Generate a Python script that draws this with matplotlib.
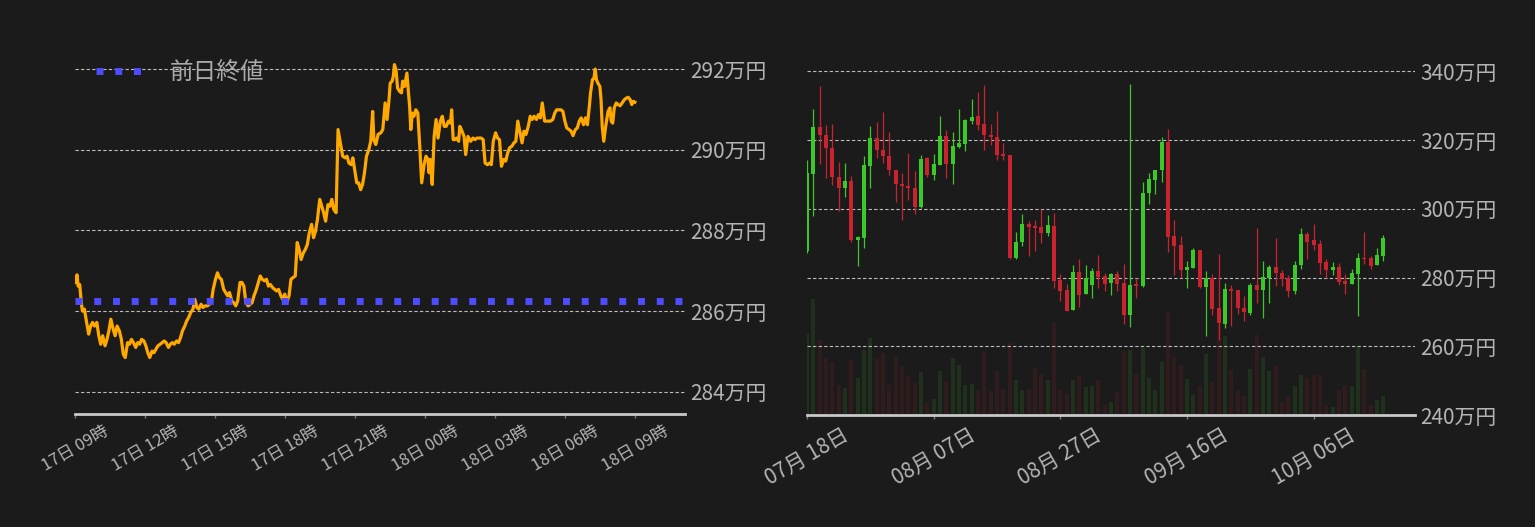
import numpy as np
import pandas as pd
import matplotlib
matplotlib.use('Agg')
import matplotlib.pyplot as plt
import matplotlib.dates as mdates
from matplotlib.ticker import FuncFormatter

plt.rcParams['font.family'] = ['Noto Sans CJK JP', 'DejaVu Sans']

BG = '#1b1b1b'
TXT = '#b4b4b4'
ORANGE = '#ffa800'
BLUE = '#4d4dff'
UP = '#3cc828'
DOWN = '#c8232f'

# ---- intraday (minutes from 17日 09:00, price in 万円) ----
minutes = [
    0, 5, 8, 12, 16, 19, 24, 29, 35, 40,
    45, 50, 56, 61, 66, 71, 77, 82, 87, 92,
    98, 103, 108, 114, 119, 124, 129, 135, 140, 145,
    150, 156, 161, 166, 171, 177, 182, 187, 192, 198,
    203, 208, 213, 219, 224, 229, 234, 240, 245, 250,
    255, 261, 266, 271, 276, 282, 287, 292, 297, 303,
    308, 313, 318, 324, 329, 334, 340, 345, 350, 355,
    361, 366, 371, 376, 382, 387, 392, 397, 403, 408,
    413, 418, 424, 429, 434, 439, 445, 450, 455, 460,
    466, 471, 476, 481, 487, 492, 497, 502, 508, 513,
    518, 523, 529, 534, 539, 544, 550, 555, 560, 566,
    571, 576, 581, 587, 592, 597, 602, 608, 613, 618,
    623, 629, 634, 639, 644, 650, 655, 660, 665, 671,
    676, 679, 685, 688, 694, 699, 704, 710, 714, 718,
    724, 729, 734, 739, 744, 749, 755, 760, 765, 768,
    773, 779, 786, 791, 797, 802, 807, 810, 815, 818,
    821, 825, 829, 834, 839, 842, 847, 853, 857, 860,
    863, 867, 871, 876, 881, 886, 891, 897, 902, 907,
    910, 913, 918, 923, 928, 933, 939, 944, 949, 954,
    960, 965, 968, 972, 976, 981, 986, 989, 993, 1000,
    1004, 1010, 1017, 1023, 1028, 1033, 1044, 1049, 1054, 1060,
    1065, 1070, 1075, 1081, 1086, 1091, 1096, 1102, 1107, 1112,
    1117, 1123, 1128, 1133, 1138, 1144, 1149, 1154, 1159, 1165,
    1170, 1175, 1180, 1186, 1191, 1196, 1201, 1207, 1212, 1217,
    1222, 1228, 1233, 1238, 1243, 1249, 1254, 1259, 1264, 1270,
    1275, 1280, 1286, 1291, 1296, 1301, 1307, 1312, 1317, 1322,
    1325, 1330, 1334, 1337, 1340, 1344, 1349, 1352, 1355, 1359,
    1364, 1370, 1375, 1378, 1382, 1386, 1391, 1396, 1401, 1406,
    1412, 1417, 1422, 1427, 1431, 1435, 1439,
]
prices = [
    286.71, 286.90, 286.62, 286.66, 286.21, 286.00, 286.05, 285.76, 285.43, 285.63,
    285.72, 285.63, 285.72, 285.39, 285.18, 285.39, 285.14, 285.30, 285.51, 285.80,
    285.55, 285.39, 285.63, 285.51, 285.30, 284.93, 284.85, 285.22, 285.18, 285.30,
    285.22, 285.10, 285.22, 285.18, 285.30, 285.26, 285.14, 284.97, 284.85, 285.01,
    284.97, 285.06, 285.14, 285.18, 285.22, 285.26, 285.22, 285.10, 285.18, 285.22,
    285.18, 285.26, 285.22, 285.34, 285.51, 285.63, 285.76, 285.84, 285.96, 286.05,
    286.29, 286.09, 286.05, 286.17, 286.09, 286.13, 286.13, 286.17, 286.21, 286.54,
    286.79, 286.95, 286.83, 286.79, 286.54, 286.46, 286.38, 286.46, 286.25, 286.21,
    286.13, 286.25, 286.71, 286.71, 286.62, 286.21, 286.13, 286.17, 286.21, 286.38,
    286.54, 286.71, 286.87, 286.79, 286.75, 286.79, 286.62, 286.66, 286.58, 286.54,
    286.50, 286.54, 286.38, 286.29, 286.42, 286.21, 286.38, 286.79, 286.83, 286.87,
    287.70, 287.53, 287.28, 287.45, 287.53, 287.65, 287.94, 288.15, 287.82, 287.98,
    288.27, 288.77, 288.60, 288.44, 288.23, 288.64, 288.60, 288.77, 288.52, 288.44,
    290.50, 290.33, 290.00, 289.84, 289.80, 289.84, 289.67, 289.63, 289.80, 289.55,
    289.18, 289.18, 289.01, 289.14, 289.43, 289.84, 290.00, 290.21, 290.95, 290.25,
    290.13, 290.38, 290.42, 290.50, 291.16, 290.75, 291.24, 291.65, 291.70, 291.82,
    292.11, 291.98, 291.53, 291.45, 291.41, 291.70, 291.57, 291.90, 291.41, 291.08,
    290.50, 290.91, 290.83, 290.99, 290.91, 290.09, 289.18, 289.63, 289.84, 289.76,
    289.43, 289.76, 289.14, 290.33, 290.75, 290.29, 290.71, 290.83, 290.58, 290.58,
    290.71, 290.66, 290.99, 290.25, 290.25, 290.29, 290.21, 290.58, 290.50, 290.33,
    289.88, 290.33, 290.21, 290.29, 290.25, 290.29, 290.29, 290.25, 289.67, 289.63,
    289.67, 289.63, 290.21, 290.42, 290.29, 290.25, 289.59, 289.76, 289.72, 289.92,
    290.05, 290.09, 290.17, 290.21, 290.71, 290.42, 290.17, 290.46, 290.38, 290.58,
    290.83, 290.75, 290.83, 290.75, 290.87, 290.79, 291.16, 290.71, 290.71, 290.71,
    290.71, 290.75, 290.91, 290.99, 290.99, 290.99, 290.95, 290.71, 290.54, 290.50,
    290.46, 290.35, 290.50, 290.54, 290.71, 290.79, 290.62, 290.79, 290.62, 291.08,
    291.41, 291.74, 291.78, 292.00, 291.74, 291.65, 291.57, 291.24, 290.58, 290.21,
    290.58, 290.95, 291.04, 290.71, 290.66, 291.04, 291.16, 291.12, 291.09, 291.16,
    291.24, 291.28, 291.30, 291.24, 291.12, 291.20, 291.18,
]
prev_close = 286.24
left_yticks = [284, 286, 288, 290, 292]

# ---- daily candles from 07/18 (万円) ----
opens = [
    287.7, 310.3, 323.8, 321.5, 317.8, 309.4, 306.0, 308.2, 290.9, 291.5,
    312.4, 320.7, 317.2, 315.5, 311.4, 307.1, 306.8, 306.2, 300.5, 314.9,
    309.8, 312.9, 321.3, 313.2, 318.1, 319.0, 325.7, 327.1, 324.7, 321.5,
    321.0, 315.7, 315.7, 285.7, 290.3, 295.5, 294.9, 294.6, 293.1, 294.9,
    279.2, 276.3, 270.6, 281.5, 275.3, 277.7, 281.8, 280.4, 278.5, 281.0,
    278.4, 269.2, 278.1, 277.5, 304.5, 308.3, 311.2, 319.5, 292.0, 289.4,
    282.2, 282.8, 287.9, 277.3, 279.8, 271.1, 266.6, 276.6, 276.3, 271.1,
    269.8, 277.8, 276.4, 280.0, 283.0, 281.3, 279.8, 276.1, 283.6, 292.6,
    290.8, 289.7, 284.4, 282.1, 283.0, 278.9, 278.1, 281.0, 285.6, 285.6,
    283.6, 286.2,
]
highs = [
    314.3, 329.1, 335.7, 324.4, 324.7, 313.7, 313.4, 309.7, 292.0, 315.5,
    324.2, 325.3, 328.2, 322.4, 311.4, 310.5, 316.3, 311.1, 315.7, 315.2,
    316.0, 327.1, 323.0, 322.4, 329.1, 326.1, 332.0, 334.0, 336.0, 324.7,
    328.5, 319.2, 315.7, 293.4, 298.6, 296.6, 296.9, 300.0, 298.1, 298.9,
    281.0, 278.1, 283.6, 285.3, 283.6, 282.7, 286.5, 281.3, 281.3, 281.8,
    283.9, 336.3, 279.8, 307.9, 310.5, 311.4, 321.0, 323.3, 296.7, 292.1,
    284.8, 288.6, 287.9, 281.9, 281.0, 286.8, 278.4, 277.8, 276.3, 274.6,
    278.4, 294.3, 284.7, 283.6, 291.6, 282.1, 280.7, 284.7, 294.3, 293.4,
    295.5, 290.8, 285.3, 284.4, 284.2, 281.0, 282.5, 287.3, 293.4, 286.2,
    288.5, 292.3,
]
lows = [
    287.1, 297.9, 313.2, 308.9, 306.9, 299.3, 303.4, 290.3, 283.4, 288.6,
    306.0, 314.7, 313.5, 309.8, 301.9, 296.7, 302.7, 298.5, 300.4, 309.2,
    308.5, 312.9, 308.9, 307.1, 317.8, 316.9, 324.7, 323.0, 317.2, 318.5,
    314.1, 314.3, 285.3, 285.3, 289.1, 286.3, 287.7, 290.0, 292.0, 277.0,
    273.2, 270.2, 270.5, 271.4, 275.3, 274.1, 277.0, 276.1, 275.0, 276.1,
    266.6, 265.7, 274.1, 277.2, 301.4, 304.3, 307.9, 287.4, 280.7, 279.9,
    277.0, 282.8, 277.0, 263.1, 269.2, 261.9, 265.4, 266.0, 269.5, 267.4,
    269.2, 272.7, 268.3, 272.6, 277.5, 277.6, 274.3, 275.2, 282.4, 285.3,
    287.9, 281.0, 279.8, 280.9, 277.8, 275.2, 278.1, 268.8, 283.9, 282.4,
    283.6, 284.7,
]
closes = [
    310.5, 323.8, 321.6, 317.6, 309.2, 306.0, 308.2, 290.9, 291.7, 312.9,
    320.7, 317.0, 315.3, 311.2, 307.1, 306.6, 306.0, 300.5, 314.6, 309.8,
    313.1, 321.3, 313.2, 318.4, 319.2, 325.9, 326.8, 324.5, 321.5, 320.8,
    315.6, 315.5, 285.6, 290.5, 295.5, 294.6, 294.3, 293.1, 295.2, 278.9,
    276.1, 270.3, 281.5, 275.0, 280.0, 281.8, 280.1, 278.2, 281.0, 278.2,
    269.2, 277.8, 277.6, 304.7, 308.8, 311.4, 319.5, 291.8, 289.1, 282.2,
    283.0, 287.9, 277.2, 280.0, 270.8, 266.9, 276.6, 276.1, 271.2, 270.0,
    277.8, 276.4, 280.1, 283.0, 281.3, 279.5, 276.1, 283.8, 292.6, 290.5,
    289.4, 284.2, 282.1, 283.0, 278.6, 278.1, 281.3, 285.6, 285.3, 283.3,
    286.5, 291.4,
]
volumes = [
    243, 348, 225, 171, 159, 90, 81, 165, 111, 195,
    231, 168, 186, 90, 174, 144, 117, 96, 129, 36,
    48, 132, 102, 171, 150, 90, 93, 72, 189, 72,
    132, 78, 216, 105, 75, 78, 141, 123, 105, 277,
    75, 63, 105, 117, 84, 87, 105, 30, 39, 69,
    192, 195, 123, 201, 111, 75, 159, 312, 174, 150,
    108, 60, 87, 183, 99, 270, 237, 135, 72, 57,
    138, 240, 174, 132, 147, 39, 57, 87, 120, 111,
    120, 120, 30, 24, 75, 90, 87, 204, 138, 30,
    45, 57,
]
right_yticks = [240, 260, 280, 300, 320, 340]

start = pd.Timestamp('2021-10-17 09:00')
times = start + pd.to_timedelta(minutes, unit='min')
days = pd.date_range('2021-07-18', periods=len(opens), freq='D')

fig = plt.figure(figsize=(15.35, 5.27), dpi=100, facecolor=BG)
ax1 = fig.add_axes([0.0489, 0.2144, 0.3974, 0.689])
ax2 = fig.add_axes([0.5257, 0.2125, 0.3961, 0.691])
axv = ax2.twinx()


def style(ax):
    ax.set_facecolor(BG)
    for s in ['top', 'left', 'right']:
        ax.spines[s].set_visible(False)
    ax.spines['bottom'].set_color('#c8c8c8')
    ax.spines['bottom'].set_linewidth(2)
    ax.yaxis.tick_right()
    ax.tick_params(axis='y', length=0, pad=4, labelsize=15, labelcolor=TXT)
    ax.tick_params(axis='x', length=3, width=1, color='#777777', labelcolor=TXT)
    ax.grid(axis='y', linestyle=(0, (3, 2)), color='#bdbdbd', linewidth=0.8)
    ax.yaxis.set_major_formatter(FuncFormatter(lambda v, p: f'{v:.0f}万円'))


# left: intraday line
style(ax1)
ax1.plot(times, prices, color=ORANGE, lw=2.3, zorder=2)
ax1.axhline(prev_close, color=BLUE, lw=5, linestyle=(0, (1, 1.7)), label='前日終値', zorder=3)
ax1.set_xlim(start, start + pd.Timedelta(minutes=1568))
ax1.set_ylim(283.45, 292.45)
ax1.set_yticks(left_yticks)
ax1.set_xticks(pd.date_range(start, periods=9, freq='3h'))
ax1.xaxis.set_major_formatter(mdates.DateFormatter('%d日 %H時'))
plt.setp(ax1.get_xticklabels(), rotation=30, ha='center', fontsize=12)
ax1.legend(loc='upper left', frameon=False, fontsize=17, labelcolor='#aaaaaa',
           handlelength=2.1, handletextpad=1.0, bbox_to_anchor=(0, 1.03))

# right: daily candles + volume
style(ax2)
x = mdates.date2num(days)
o = np.array(opens)
c = np.array(closes)
up = c >= o
cols = np.where(up, UP, DOWN)
ax2.vlines(x, lows, highs, colors=cols, lw=0.9, zorder=3)
ax2.bar(x, np.maximum(np.abs(c - o), 0.35), bottom=np.minimum(o, c), width=0.62,
        color=cols, zorder=4)
axv.bar(x, volumes, width=0.62, color=cols, alpha=0.12, zorder=1)
axv.set_ylim(0, 1092)
axv.set_yticks([])
for s in axv.spines.values():
    s.set_visible(False)
ax2.set_zorder(axv.get_zorder() + 1)
ax2.patch.set_visible(False)
axv.set_facecolor(BG)

ax2.set_xlim(x[0], x[0] + 96)
ax2.set_ylim(240, 346)
ax2.set_yticks(right_yticks)
ax2.set_xticks(x[::20])
ax2.xaxis.set_major_formatter(mdates.DateFormatter('%m月 %d日'))
plt.setp(ax2.get_xticklabels(), rotation=30, ha='center', fontsize=15)

fig.savefig('out.png', dpi=100, facecolor=BG)
